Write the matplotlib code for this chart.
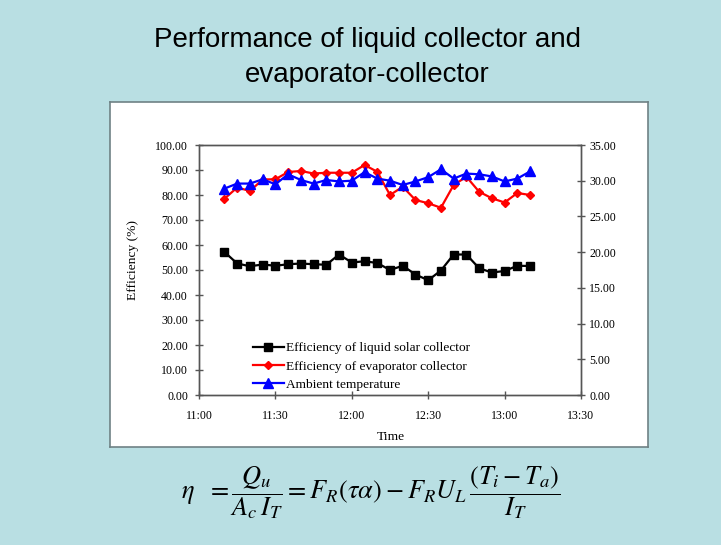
import matplotlib
matplotlib.use("Agg")
import matplotlib.pyplot as plt
import matplotlib.dates as mdates
import pandas as pd

times = ["11:10", "11:15", "11:20", "11:25", "11:30", "11:35", "11:40", "11:45", "11:50",
         "11:55", "12:00", "12:05", "12:10", "12:15", "12:20", "12:25", "12:30", "12:35",
         "12:40", "12:45", "12:50", "12:55", "13:00", "13:05", "13:10"]
eff_liquid = [57.2, 52.6, 51.5, 52.2, 51.7, 52.3, 52.6, 52.3, 52.1, 56.2, 53.0, 53.5, 52.8,
              50.0, 51.7, 48.2, 45.9, 49.8, 56.2, 56.2, 50.7, 49.0, 49.6, 51.7, 51.6]
eff_evap = [78.5, 83.0, 81.6, 86.2, 86.3, 89.2, 89.6, 88.6, 88.9, 88.9, 88.9, 92.0, 89.3,
            80.0, 83.3, 78.0, 76.7, 74.9, 84.0, 87.3, 81.3, 78.7, 77.0, 80.8, 80.0]
ambient = [28.9, 29.6, 29.6, 30.2, 29.5, 30.9, 30.1, 29.6, 30.1, 29.9, 30.0, 31.2, 30.3,
           30.0, 29.4, 29.9, 30.5, 31.6, 30.3, 31.0, 30.9, 30.6, 29.9, 30.3, 31.3]
left_ticks = [0, 10, 20, 30, 40, 50, 60, 70, 80, 90, 100]
right_ticks = [0, 5, 10, 15, 20, 25, 30, 35]
x_range = ["11:00", "13:30"]
labels = ["Efficiency of liquid solar collector", "Efficiency of evaporator collector",
          "Ambient temperature"]

def to_dt(strs):
    return pd.to_datetime(["2020-01-01 " + s for s in strs])

t = to_dt(times)
xr = to_dt(x_range)

W, H = 721, 545
bg = "#b9dfe3"
fig = plt.figure(figsize=(W / 100, H / 100), dpi=100, facecolor=bg)

# white chart box as a background axes
box = fig.add_axes([110 / W, 1 - 447 / H, (648 - 110) / W, (447 - 102) / H], zorder=-5)
box.set_xticks([])
box.set_yticks([])
box.set_facecolor("white")
for s in box.spines.values():
    s.set_color("#6f8285")
    s.set_linewidth(1.2)

serif = ["Liberation Serif", "DejaVu Serif"]
tfs = 8.6
ax = fig.add_axes([199 / W, 1 - 395 / H, (581 - 199) / W, (395 - 145) / H], zorder=1)
ax.set_facecolor("white")
ax2 = ax.twinx()

spine_c = "#555555"
for a in (ax, ax2):
    for s in a.spines.values():
        s.set_color(spine_c)
        s.set_linewidth(1.0)

l1, = ax.plot(t, eff_liquid, color="black", marker="s", markersize=5.3, lw=1.6,
              label=labels[0])
l2, = ax.plot(t, eff_evap, color="red", marker="D", markersize=3.8, lw=1.6, label=labels[1])
l3, = ax2.plot(t, ambient, color="blue", marker="^", markersize=6.5, lw=1.6, label=labels[2])

ax.set_xlim(xr[0], xr[1])
ax.set_ylim(0, 100)
ax2.set_ylim(0, 35)
ax.set_yticks(left_ticks)
ax.set_yticklabels([f"{v:.2f}" for v in left_ticks], fontfamily=serif, fontsize=tfs)
ax2.set_yticks(right_ticks)
ax2.set_yticklabels([f"{v:.2f}" for v in right_ticks], fontfamily=serif, fontsize=tfs)
ax.xaxis.set_major_locator(mdates.MinuteLocator(byminute=[0, 30]))
ax.xaxis.set_major_formatter(mdates.DateFormatter("%H:%M"))
for lab in ax.get_xticklabels():
    lab.set_fontfamily(serif)
    lab.set_fontsize(tfs)

ax.tick_params(axis="y", direction="inout", length=6, width=1, color=spine_c, pad=5)
ax2.tick_params(axis="y", direction="inout", length=6, width=1, color=spine_c, pad=3)
ax.tick_params(axis="x", direction="inout", length=6, width=1, color=spine_c, pad=8)

fig.text(133 / W, 1 - 260 / H, "Efficiency (%)", rotation=90, ha="center", va="center",
         fontfamily=serif, fontsize=9.7)
fig.text(391 / W, 1 - 437 / H, "Time", ha="center", va="center", fontfamily=serif,
         fontsize=9.7)

fig.legend(handles=[l1, l2, l3], loc="upper left", bbox_to_anchor=(253 / W, 1 - 342 / H),
           frameon=False, prop={"family": serif, "size": 9.6}, handlelength=2.3,
           handletextpad=0.15, labelspacing=0.45, borderpad=0, borderaxespad=0)

fig.text(367 / W, 1 - 47 / H, "Performance of liquid collector and", ha="center",
         va="baseline", fontfamily="Liberation Sans", fontsize=20)
fig.text(367 / W, 1 - 82 / H, "evaporator-collector", ha="center", va="baseline",
         fontfamily="Liberation Sans", fontsize=20)

plt.rcParams["mathtext.fontset"] = "stix"
fig.text(371 / W, 1 - 493 / H,
         r"$\eta\ \ = \dfrac{Q_u}{A_c\, I_T} = F_R(\tau\alpha) - F_R U_L\,\dfrac{(T_i - T_a)}{I_T}$",
         ha="center", va="center", fontsize=19)

fig.savefig("out.png", dpi=100, facecolor=bg)
